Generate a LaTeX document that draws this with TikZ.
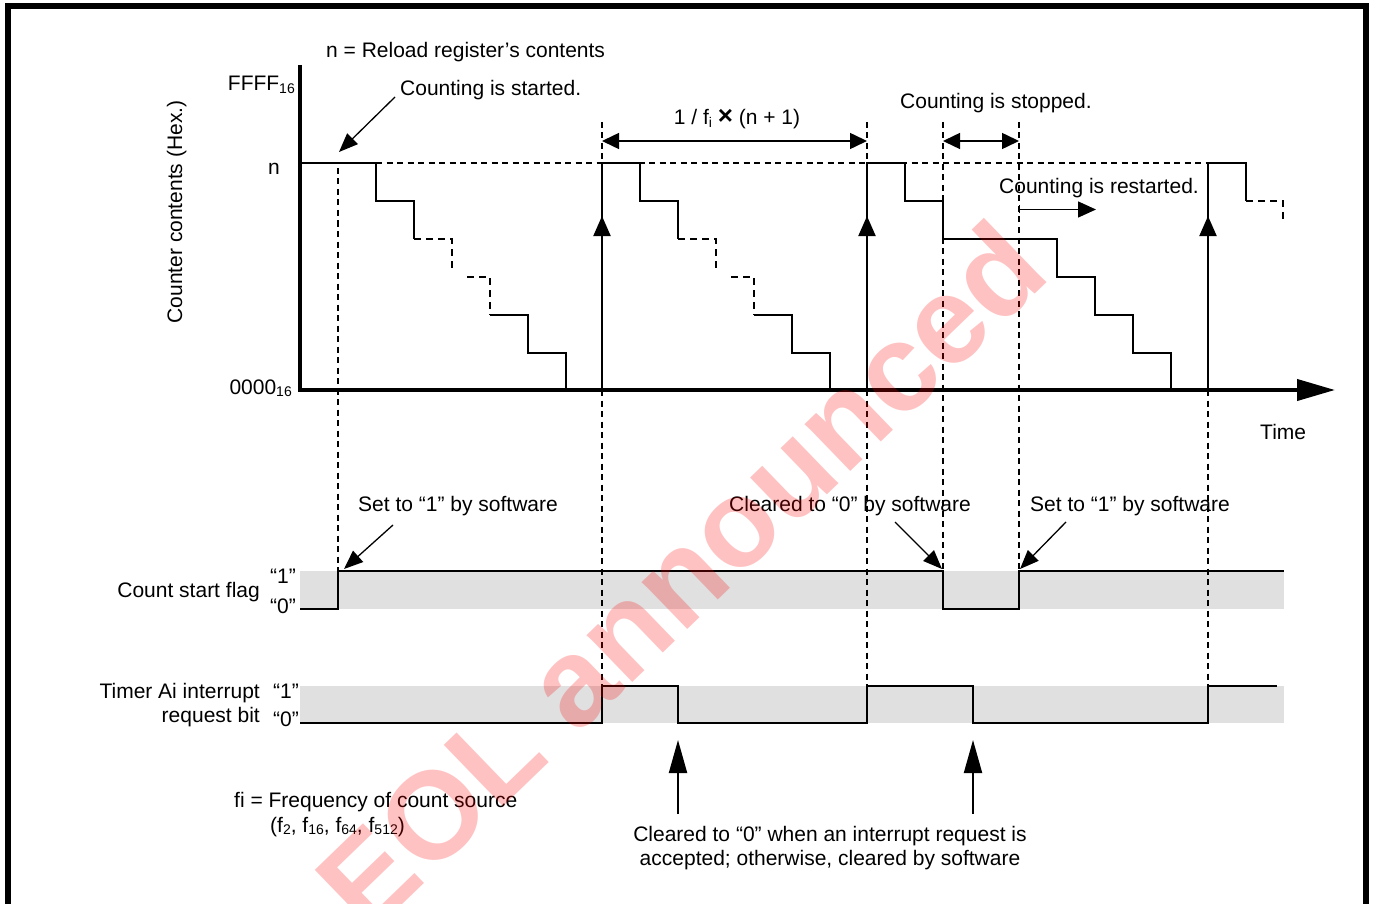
\documentclass[tikz,border=0pt]{standalone}
\usepackage{fontspec}
\setmainfont{Liberation Sans}
\usetikzlibrary{arrows.meta}
\newcommand\lsub[1]{\raisebox{-0.12em}{\fontsize{14}{14}\selectfont #1}}
\newcommand\bigx{{\fontsize{26}{26}\selectfont\bfseries ×}}
\tikzset{
  every node/.style={inner sep=0pt, font=\fontsize{21}{25}\selectfont},
  sig/.style={line width=2pt, line join=miter},
  sigdash/.style={line width=2pt, dash pattern=on 7pt off 5pt},
  guide/.style={line width=1.3pt, dash pattern=on 6pt off 4.5pt},
  band/.style={fill=black!12, draw=none},
  axisline/.style={line width=4pt, line join=miter},
  uparrow/.style={sig, -{Triangle[length=20pt,width=17pt]}},
  dimarrow/.style={line width=1.5pt, {Triangle[length=17pt,width=16pt]}-{Triangle[length=17pt,width=16pt]}},
  annarrow/.style={line width=1.3pt, -{Triangle[length=19pt,width=15pt]}},
  watermark/.style={text=red, opacity=0.24, font=\bfseries\fontsize{124}{124}\selectfont}
}
\begin{document}
\begin{tikzpicture}[x=1pt,y=-1pt]
\useasboundingbox (0,0) rectangle (1373,904);
% frame
\draw[line width=6pt] (7.5,6.5) rectangle (1366,915);

% gray bands
\fill[band] (300,571) rectangle (1284,609);
\fill[band] (300,686) rectangle (1284,723);

% guide lines
\draw[guide] (338,168) -- (338,571);
\draw[guide] (602,122) -- (602,163);
\draw[guide] (602,390) -- (602,686);
\draw[guide] (867,122) -- (867,163);
\draw[guide] (867,390) -- (867,686);
\draw[guide] (943,122) -- (943,571);
\draw[guide] (1019,122) -- (1019,571);
\draw[guide] (1208,390) -- (1208,686);
\draw[guide] (376,163) -- (1208,163);

% axes
\draw[axisline, -{Triangle[length=38pt,width=21pt]}] (300,65) -- (300,390) -- (1335,390);

% staircase 1
\draw[sig] (300,163) -- (376,163) -- (376,201) -- (414,201) -- (414,239);
\draw[sigdash] (414,239) -- (452,239) -- (452,269);
\draw[sigdash] (467,277) -- (490,277) -- (490,315);
\draw[sig] (490,315) -- (528,315) -- (528,353) -- (566,353) -- (566,390);
% staircase 2
\draw[sig] (602,390) -- (602,163) -- (640,163) -- (640,201) -- (678,201) -- (678,239);
\draw[sigdash] (678,239) -- (716,239) -- (716,269);
\draw[sigdash] (731,277) -- (754,277) -- (754,315);
\draw[sig] (754,315) -- (792,315) -- (792,353) -- (830,353) -- (830,390);
% staircase 3
\draw[sig] (867,390) -- (867,163) -- (905,163) -- (905,201) -- (943,201) -- (943,239) -- (1057,239) -- (1057,277) -- (1095,277) -- (1095,315) -- (1133,315) -- (1133,353) -- (1171,353) -- (1171,390);
% staircase 4
\draw[sig] (1208,390) -- (1208,163) -- (1246,163) -- (1246,201);
\draw[sigdash] (1246,201) -- (1283,201) -- (1283,220);

% reload arrows
\draw[uparrow] (602,390) -- (602,216);
\draw[uparrow] (867,390) -- (867,216);
\draw[uparrow] (1208,390) -- (1208,216);

% dimension arrows
\coordinate (dA) at (602,141); \coordinate (dB) at (867,141);
\draw[dimarrow] (dA) -- (dB);
\coordinate (sA) at (943,141); \coordinate (sB) at (1019,141);
\draw[dimarrow] (sA) -- (sB);
\coordinate (rA) at (1019,209.5); \coordinate (rB) at (1096,209.5);
\draw[line width=1.5pt, {Bar[width=8pt,line width=1.3pt]}-{Triangle[length=18pt,width=16pt]}] (rA) -- (rB);

% count start flag signal
\draw[sig] (300,609) -- (338,609) -- (338,571) -- (943,571) -- (943,609) -- (1019,609) -- (1019,571) -- (1284,571);
% interrupt request signal
\draw[sig] (300,723) -- (602,723) -- (602,686) -- (678,686) -- (678,723) -- (867,723) -- (867,686) -- (973,686) -- (973,723) -- (1208,723) -- (1208,686) -- (1277,686);

% texts
\node[anchor=base west] (reload) at (326,58) {n = Reload register’s contents};
\node[anchor=base east] (ffff) at (295,91) {FFFF\lsub{16}};
\node[anchor=base east] (nlab) at (280,175) {n};
\node[anchor=base east] (zero) at (292,394) {0000\lsub{16}};
\node[anchor=base, rotate=90] (ylab) at (182,212) {Counter contents (Hex.)};
\node[anchor=base west] (time) at (1260,439) {Time};
\node[anchor=base west] (started) at (400,96) {Counting is started.};
\node[anchor=base] (period) at (737,125) {1 / f\lsub{i} \bigx{} (n + 1)};
\node[anchor=base west] (stopped) at (900,109) {Counting is stopped.};
\node[anchor=base west] (restarted) at (999,194) {Counting is restarted.};

\node[anchor=base west] (set1) at (358,511) {Set to “1” by software};
\node[anchor=base west] (clr0) at (729,511) {Cleared to “0” by software};
\node[anchor=base west] (set2) at (1030,511) {Set to “1” by software};

\node[anchor=base east] (csf) at (260,597) {Count start flag};
\node[anchor=base west] (csf1) at (270,583) {“1”};
\node[anchor=base west] (csf0) at (270,613) {“0”};
\node[anchor=base east] (tai1) at (260,698) {Timer Ai interrupt};
\node[anchor=base east] (tai2) at (260,722) {request bit};
\node[anchor=base west] (ir1) at (273,698) {“1”};
\node[anchor=base west] (ir0) at (273,726) {“0”};

\node[anchor=base west] (fi) at (234,807) {fi = Frequency of count source};
\node[anchor=base west] (fiList) at (270,832) {(f\lsub{2}, f\lsub{16}, f\lsub{64}, f\lsub{512})};
\node[anchor=base] (clrA) at (830,841) {Cleared to “0” when an interrupt request is};
\node[anchor=base] (clrB) at (830,865) {accepted; otherwise, cleared by software};

% annotation arrows
\coordinate (a1s) at (395,97);  \coordinate (a1e) at (339,152);
\draw[annarrow] (a1s) -- (a1e);
\coordinate (a2s) at (393,525); \coordinate (a2e) at (344,569);
\draw[annarrow] (a2s) -- (a2e);
\coordinate (a3s) at (895,522); \coordinate (a3e) at (942,569);
\draw[annarrow] (a3s) -- (a3e);
\coordinate (a4s) at (1066,522); \coordinate (a4e) at (1020,569);
\draw[annarrow] (a4s) -- (a4e);
\coordinate (b1s) at (678,814); \coordinate (b1e) at (678,740);
\draw[sig, -{Triangle[length=33pt,width=18pt]}] (b1s) -- (b1e);
\coordinate (b2s) at (973,814); \coordinate (b2e) at (973,740);
\draw[sig, -{Triangle[length=33pt,width=18pt]}] (b2s) -- (b2e);

% watermark
\node[watermark, rotate=44] (wm) at (680,575) {EOL announced};
\end{tikzpicture}
\end{document}
